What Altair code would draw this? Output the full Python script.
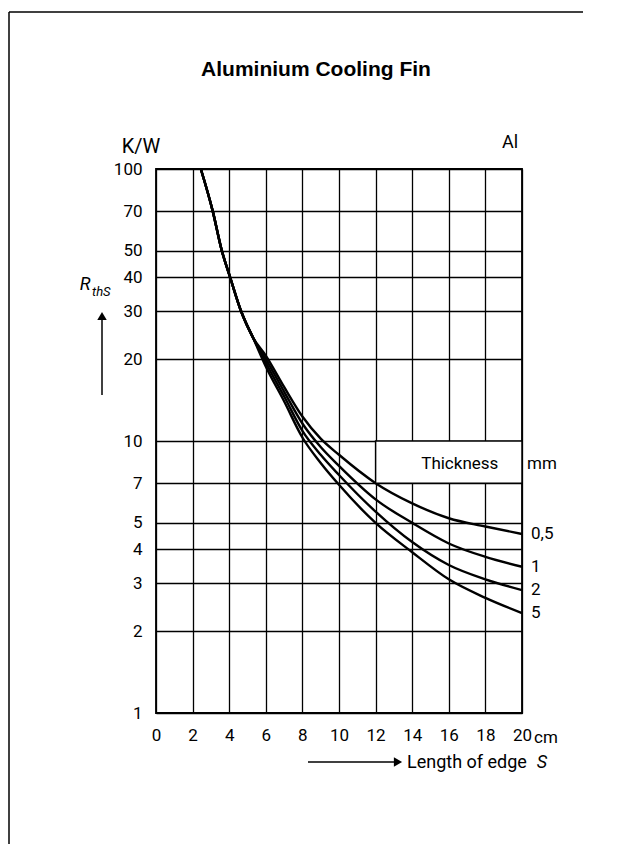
import altair as alt
import pandas as pd

# ---- data ----
edge_cm = [2.45, 3.1, 3.6, 4.05, 4.65, 5.3, 6, 7, 8, 9, 10, 12, 14, 16, 18, 20]
r_05mm = [100, 70, 50, 40, 30, 24, 20.6, 15.8, 12.3, 10.2, 8.9, 7.0, 5.9, 5.2, 4.85, 4.55]
r_1mm = [100, 70, 50, 40, 30, 24, 20.0, 15.2, 11.6, 9.5, 8.1, 6.1, 5.0, 4.2, 3.75, 3.45]
r_2mm = [100, 70, 50, 40, 30, 24, 19.4, 14.6, 10.9, 8.9, 7.5, 5.5, 4.25, 3.5, 3.1, 2.83]
r_5mm = [100, 70, 50, 40, 30, 24, 18.8, 14.0, 10.3, 8.3, 6.9, 5.0, 3.9, 3.1, 2.65, 2.33]
thickness_labels = ["0,5", "1", "2", "5"]
x_ticks = [0, 2, 4, 6, 8, 10, 12, 14, 16, 18, 20]
y_ticks = [1, 2, 3, 4, 5, 7, 10, 20, 30, 40, 50, 70, 100]

series = {"0,5": r_05mm, "1": r_1mm, "2": r_2mm, "5": r_5mm}
rows = []
for name, vals in series.items():
    for x, v in zip(edge_cm, vals):
        rows.append({"S": x, "R": v, "t": name})
df = pd.DataFrame(rows)
end_df = pd.DataFrame({"S": [20] * 4, "R": [r[-1] for r in series.values()], "t": thickness_labels})
box_df = pd.DataFrame({"S": [12], "S2": [20], "R": [7], "R2": [10]})

W, H = 366, 544
FONT = "Roboto"

xs = alt.Scale(domain=[0, 20], nice=False, zero=False)
ys = alt.Scale(type="log", domain=[1, 100], nice=False)

x_axis = alt.Axis(values=x_ticks, title=None, labelPadding=14, labelFontSize=17, labelFont=FONT,
                  labelColor="black", grid=True, gridColor="black", gridWidth=1.3, gridOpacity=1,
                  domain=False, ticks=False, labelFlush=False, labelOverlap=False)
y_axis = alt.Axis(values=y_ticks, title=None, labelPadding=14, labelFontSize=17, labelFont=FONT,
                  labelColor="black", grid=True, gridColor="black", gridWidth=1.3, gridOpacity=1,
                  domain=False, ticks=False, format="d", labelFlush=False, labelOverlap=False)

X = alt.X("S:Q", scale=xs, axis=x_axis)
Y = alt.Y("R:Q", scale=ys, axis=y_axis)

curves = alt.Chart(df).mark_line(color="black", strokeWidth=2.4, interpolate="monotone").encode(
    x=X, y=Y, detail="t:N",
)

box = alt.Chart(box_df).mark_rect(fill="white", stroke="black", strokeWidth=1.5).encode(
    x=X, x2="S2:Q", y=Y, y2="R2:Q"
)

thick_txt = alt.Chart(pd.DataFrame({"S": [16.6], "R": [8.2], "txt": ["Thickness"]})).mark_text(
    font=FONT, fontSize=17, color="black"
).encode(x=X, y=Y, text="txt:N")

mm_txt = alt.Chart(pd.DataFrame({"S": [20], "R": [8.2], "txt": ["mm"]})).mark_text(
    font=FONT, fontSize=17, color="black", align="left", dx=5
).encode(x=X, y=Y, text="txt:N")

end_lbl = alt.Chart(end_df).mark_text(font=FONT, fontSize=17, color="black", align="left", dx=9).encode(
    x=X, y=Y, text="t:N"
)

cm_txt = alt.Chart(pd.DataFrame({"S": [20], "txt": ["cm"]})).mark_text(
    font=FONT, fontSize=17, color="black", align="left", dx=12, baseline="middle"
).encode(x=X, y=alt.value(569), text="txt:N")


def label(txt, x, y, size=16, align="center", style="normal", weight="normal", font=FONT):
    return alt.Chart(pd.DataFrame({"txt": [txt]})).mark_text(
        font=font, fontSize=size, color="black", align=align, baseline="middle",
        fontStyle=style, fontWeight=weight
    ).encode(x=alt.value(x), y=alt.value(y), text="txt:N")


title = label("Aluminium Cooling Fin", 160, -99, size=21, weight="bold", font="Liberation Sans")
kw = label("K/W", -15, -22, size=20)
al = label("Al", 354, -26, size=18)
r_main = label("R", -71, 116, size=18, style="italic")
r_sub = label("thS", -64, 123, size=13, align="left", style="italic")
xlab = label("Length of edge", 251, 594, size=18, align="left")
xlab_s = label("S", 386, 594, size=18, style="italic")

# arrows
y_arrow = alt.Chart(pd.DataFrame({"a": [0]})).mark_rule(color="black", strokeWidth=1.5).encode(
    x=alt.value(-54), y=alt.value(150), y2=alt.value(226))
y_head = alt.Chart(pd.DataFrame({"a": [0]})).mark_point(
    shape="triangle-up", filled=True, color="black", size=90, opacity=1).encode(
    x=alt.value(-54), y=alt.value(147))
x_arrow = alt.Chart(pd.DataFrame({"a": [0]})).mark_rule(color="black", strokeWidth=1.5).encode(
    x=alt.value(152), x2=alt.value(240), y=alt.value(593))
x_head = alt.Chart(pd.DataFrame({"a": [0]})).mark_point(
    shape="triangle-right", filled=True, color="black", size=90, opacity=1).encode(
    x=alt.value(242), y=alt.value(593))

# page frame
frame_top = alt.Chart(pd.DataFrame({"a": [0]})).mark_rule(color="black", strokeWidth=1.5).encode(
    x=alt.value(-147), x2=alt.value(427), y=alt.value(-157))
frame_left = alt.Chart(pd.DataFrame({"a": [0]})).mark_rule(color="black", strokeWidth=1.5).encode(
    x=alt.value(-147), y=alt.value(-157), y2=alt.value(700))

chart = alt.layer(
    curves, box, thick_txt, mm_txt, end_lbl, cm_txt, title, kw, al, r_main, r_sub, xlab, xlab_s,
    y_arrow, y_head, x_arrow, x_head, frame_top, frame_left
).properties(
    width=W, height=H,
    background="white",
    autosize=alt.AutoSizeParams(type="none"),
    padding={"left": 148, "top": 161, "right": 87, "bottom": 131},
).configure_view(
    stroke="black", strokeWidth=1.8
)

chart.save("out.html", embed_options={"renderer": "svg", "actions": False})
